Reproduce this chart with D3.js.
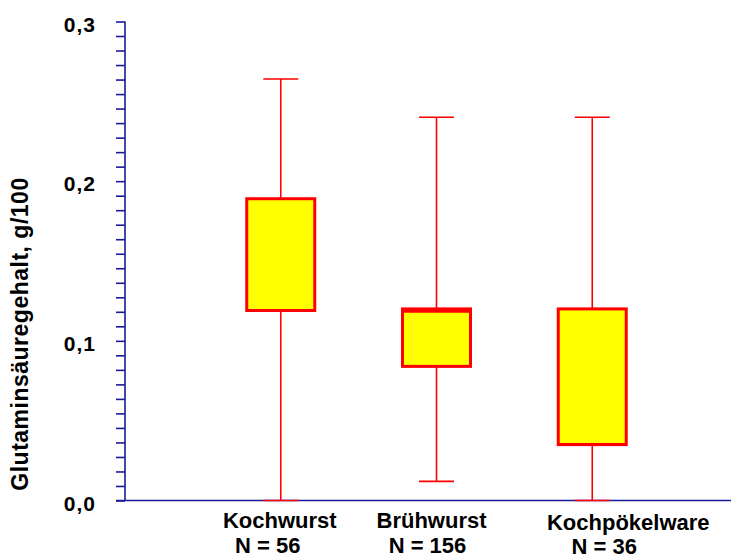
<!DOCTYPE html>
<html lang="de">
<head>
<meta charset="UTF-8">
  <title>Glutaminsäuregehalt - D3 Boxplot</title>
  <script src="https://d3js.org/d3.v7.min.js"></script>
  <style>
    body { margin: 0; background: #fff; }
    svg {
      font-family: "Liberation Sans", Arial, sans-serif;
      font-weight: bold;
      background-color: #ffffff;
    }
  </style>
</head>
<body>

<div id="chart"></div>

<script>
  // Data
  const categories = ["Kochwurst", "Brühwurst", "Kochpökelware"];
  const counts = [56, 156, 36];
  const whiskerLow = [0.0, 0.012, 0.0];
  const q1 = [0.119, 0.084, 0.035];
  const median = [0.119, 0.1185, 0.035];
  const q3 = [0.189, 0.12, 0.12];
  const whiskerHigh = [0.264, 0.24, 0.24];
  const yTicks = [0, 0.1, 0.2, 0.3];

  const boxes = categories.map((c, i) => ({
    cat: c, n: counts[i], lo: whiskerLow[i], q1: q1[i],
    med: median[i], q3: q3[i], hi: whiskerHigh[i]
  }));

  // Dimensions
  const width = 736, height = 559;
  const axisColor = "#1a1a96";

  const svg = d3.select("#chart")
    .append("svg")
    .attr("width", width)
    .attr("height", height);

  // Scales
  const y = d3.scaleLinear()
    .domain([0, 0.3])
    .range([500.5, 21.5]);

  const x = d3.scalePoint()
    .domain(categories)
    .range([125, 748])
    .padding(1);

  const fmt = d3.formatLocale({ decimal: ",", thousands: ".", grouping: [3], currency: ["", "€"] }).format(".1f");

  // Y axis with minor ticks (11 subdivisions per 0.1 like the original)
  const minorTicks = d3.range(0, 34).map(i => i * 0.3 / 33);
  const yAxis = svg.append("g")
    .attr("transform", "translate(125,0)")
    .call(d3.axisLeft(y).tickValues(minorTicks).tickSize(9).tickFormat(""));
  yAxis.select(".domain").attr("stroke", axisColor).attr("stroke-width", 1.6)
    .attr("d", `M0,${y(0.3)}V${y(0)}`);
  yAxis.selectAll(".tick line").attr("stroke", axisColor).attr("stroke-width", 1.6);

  // Tick labels
  svg.selectAll(".ylab")
    .data(yTicks)
    .enter()
    .append("text")
    .attr("class", "ylab")
    .attr("x", 96)
    .attr("y", d => y(d) + 10)
    .attr("text-anchor", "end")
    .style("font-size", "21px")
    .style("letter-spacing", "1px")
    .text(d => fmt(d));

  // Baseline
  svg.append("line")
    .attr("x1", 116).attr("x2", 731)
    .attr("y1", y(0)).attr("y2", y(0))
    .attr("stroke", axisColor)
    .attr("stroke-width", 1.6);

  // Boxes
  const boxW = 68, capW = 35;
  const g = svg.selectAll(".box")
    .data(boxes)
    .enter()
    .append("g")
    .attr("class", "box")
    .attr("transform", d => `translate(${x(d.cat)},0)`);

  g.append("line")
    .attr("y1", d => y(d.lo)).attr("y2", d => y(d.q1))
    .attr("stroke", "red").attr("stroke-width", 1.6);
  g.append("line")
    .attr("y1", d => y(d.q3)).attr("y2", d => y(d.hi))
    .attr("stroke", "red").attr("stroke-width", 1.6);
  g.append("line")
    .attr("x1", -capW / 2).attr("x2", capW / 2)
    .attr("y1", d => y(d.hi)).attr("y2", d => y(d.hi))
    .attr("stroke", "red").attr("stroke-width", 1.6);
  g.append("line")
    .attr("x1", -capW / 2).attr("x2", capW / 2)
    .attr("y1", d => y(d.lo)).attr("y2", d => y(d.lo))
    .attr("stroke", "red").attr("stroke-width", 1.6);

  g.append("rect")
    .attr("x", -boxW / 2)
    .attr("width", boxW)
    .attr("y", d => y(d.q3))
    .attr("height", d => y(d.q1) - y(d.q3))
    .attr("fill", "#ffff00")
    .attr("stroke", "red")
    .attr("stroke-width", 3);
  g.append("line")
    .attr("x1", -boxW / 2).attr("x2", boxW / 2)
    .attr("y1", d => y(d.med)).attr("y2", d => y(d.med))
    .attr("stroke", "red").attr("stroke-width", 3);

  // Category labels (nudged like the original layout)
  const nudge = [
    { dx1: -1, dx2: -13, y1: 528, y2: 553 },
    { dx1: -5, dx2: -9, y1: 528, y2: 553 },
    { dx1: 36, dx2: 12, y1: 530, y2: 554 }
  ];
  boxes.forEach((d, i) => {
    svg.append("text")
      .attr("x", x(d.cat) + nudge[i].dx1)
      .attr("y", nudge[i].y1)
      .attr("text-anchor", "middle")
      .style("font-size", "22px")
      .text(d.cat);
    svg.append("text")
      .attr("x", x(d.cat) + nudge[i].dx2)
      .attr("y", nudge[i].y2)
      .attr("text-anchor", "middle")
      .style("font-size", "22px")
      .text(`N = ${d.n}`);
  });

  // Y-axis title
  svg.append("text")
    .attr("transform", "translate(28,334) rotate(-90)")
    .attr("text-anchor", "middle")
    .style("font-size", "23px")
    .style("letter-spacing", "0.5px")
    .text("Glutaminsäuregehalt, g/100");
</script>

</body>
</html>
